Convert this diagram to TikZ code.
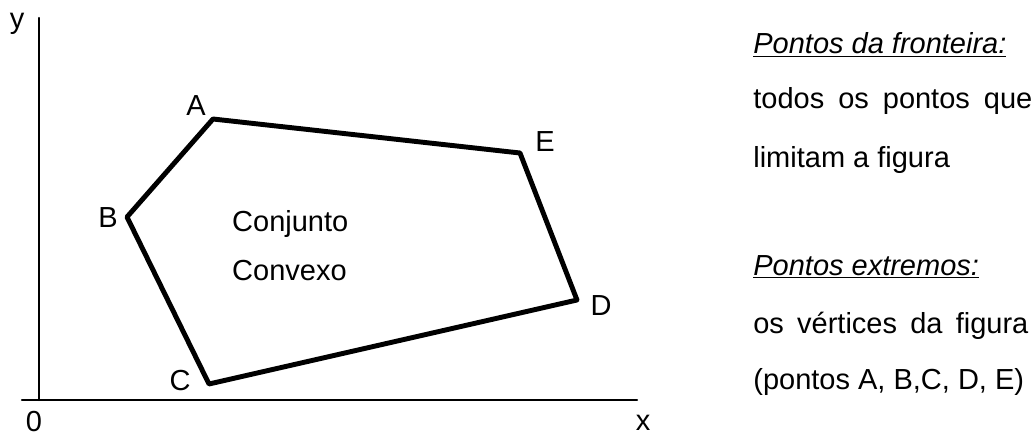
\documentclass[tikz,border=0pt]{standalone}
\usepackage{fontspec}
\setmainfont{Liberation Sans}
\begin{document}
\begin{tikzpicture}[font=\fontsize{16.5pt}{19pt}\selectfont, line join=round, line cap=round]
	\tikzset{
		axis/.style={line width=1.3pt},
		edge/.style={line width=2.8pt},
		info/.style={anchor=base west, inner sep=0pt}
	}
	\useasboundingbox (-0.78,-0.74) rectangle (19.88,8.0);
	\coordinate (O) at (0,0);
	\coordinate (X) at (11.96,0);
	\coordinate (Xs) at (-0.34,0);
	\coordinate (Y) at (0,7.64);
	\coordinate (A) at (3.48,5.62);
	\coordinate (B) at (1.76,3.66);
	\coordinate (C) at (3.40,0.32);
	\coordinate (D) at (10.76,2.00);
	\coordinate (E) at (9.62,4.94);
	\draw[axis] (Xs) -- (X);
	\draw[axis] (O) -- (Y);
	\draw[edge] (A) -- (B) -- (C) -- (D) -- (E) -- cycle;
	\node (ylab) at (-0.44,7.52) {y};
	\node (olab) at (-0.1,-0.44) {0};
	\node[inner sep=0pt] (xlab) at (12.08,-0.46) {x};
	\node (alab) at (3.14,5.88) {A};
	\node (blab) at (1.38,3.64) {B};
	\node (clab) at (2.82,0.38) {C};
	\node (dlab) at (11.24,1.88) {D};
	\node (elab) at (10.12,5.16) {E};
	\node[anchor=west] (conj) at (3.74,3.52) {Conjunto};
	\node[anchor=west] (conv) at (3.74,2.58) {Convexo};
	% texto a direita
	\node[info] (t1) at (14.28,6.92) {\underline{\itshape Pontos da fronteira:}};
	\node[info] (t2) at (14.28,5.84) {\makebox[5.58cm][s]{todos os pontos que}};
	\node[info] (t3) at (14.28,4.66) {limitam a figura};
	\node[info] (t4) at (14.28,2.50) {\underline{\itshape Pontos extremos:}};
	\node[info] (t5) at (14.28,1.34) {\makebox[5.50cm][s]{os vértices da figura}};
	\node[info] (t6) at (14.28,0.22) {(pontos A, B,C, D, E)};
\end{tikzpicture}
\end{document}
